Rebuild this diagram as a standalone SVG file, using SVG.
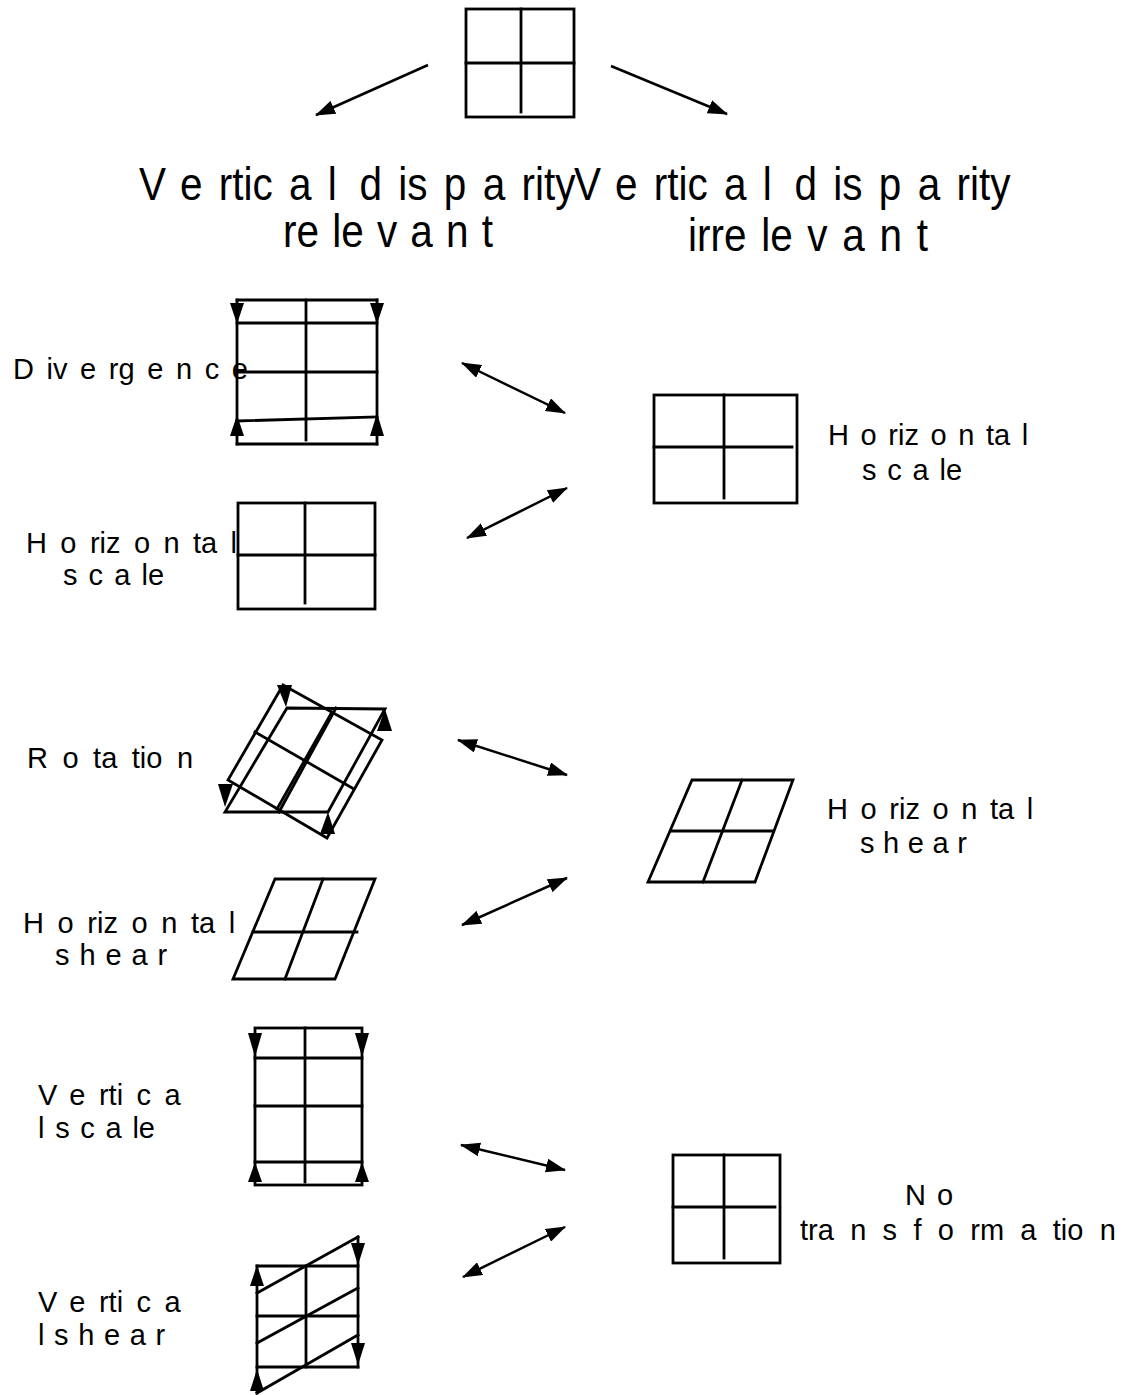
<svg xmlns="http://www.w3.org/2000/svg" width="1133" height="1395" viewBox="0 0 1133 1395">
<defs>
<style>
.fig{fill:none;stroke:#000;stroke-width:2.8;stroke-linecap:square}
.con{fill:none;stroke:#000;stroke-width:2.5}
.lbl{font-family:"Liberation Sans",Arial,sans-serif;font-size:29px;fill:#000}
.hd{font-family:"Liberation Sans",Arial,sans-serif;font-size:46px;fill:#000}
.ah{fill:#000;stroke:none}
</style>
<marker id="arr" viewBox="0 0 20 14" refX="19" refY="7" markerWidth="20" markerHeight="14" markerUnits="userSpaceOnUse" orient="auto-start-reverse">
<path d="M0,0 L20,7 L0,14 Z" fill="#000"/>
</marker>
</defs>
<rect width="1133" height="1395" fill="#fff"/>

<g id="top-square">
<rect class="fig" x="466" y="9" width="108" height="108"/>
<line class="fig" x1="521" y1="9" x2="521" y2="112"/>
<line class="fig" x1="466" y1="63" x2="574" y2="63"/>
</g>

<g id="headings">
<text class="hd" transform="translate(139,200) scale(0.88,1)" x="0" y="0" dx="0 18.5 18.5 0 0 0 18.5 18.5 0 13 18.5 0 18.5 18.5 18.5 0 0 0">Vertical disparity</text>
<text class="hd" transform="translate(283,247) scale(0.88,1)" x="0" y="0" dx="0 0 15 0 15 15 15 15">relevant</text>
<text class="hd" transform="translate(574,200) scale(0.88,1)" x="0" y="0" dx="0 18.5 18.5 0 0 0 18.5 18.5 0 13 18.5 0 18.5 18.5 18.5 0 0 0">Vertical disparity</text>
<text class="hd" transform="translate(688,251) scale(0.88,1)" x="0" y="0" dx="0 0 0 0 16.7 0 16.7 16.7 16.7 16.7">irrelevant</text>
</g>

<g id="divergence">
<line class="fig" x1="237" y1="300" x2="377" y2="300"/>
<line class="fig" x1="237" y1="444" x2="377" y2="444"/>
<line class="fig" x1="237" y1="300" x2="237" y2="444"/>
<line class="fig" x1="377" y1="300" x2="377" y2="444"/>
<line class="fig" x1="237" y1="323" x2="377" y2="323"/>
<line class="fig" x1="237" y1="372" x2="377" y2="372"/>
<line class="fig" x1="237" y1="421" x2="377" y2="417"/>
<line class="fig" x1="306" y1="300" x2="306" y2="440"/>
<path class="ah" d="M230,303 L244,303 L237,324 Z"/>
<path class="ah" d="M370,303 L384,303 L377,324 Z"/>
<path class="ah" d="M230,436 L244,436 L237,415 Z"/>
<path class="ah" d="M370,436 L384,436 L377,413 Z"/>
<text class="lbl" x="13" y="379" dx="0 12.6 0 12.6 12.6 0 12.6 12.6 12.6 12.6">Divergence</text>
</g>

<g id="hscale-left">
<rect class="fig" x="238" y="503" width="137" height="106"/>
<line class="fig" x1="305" y1="503" x2="305" y2="603"/>
<line class="fig" x1="238" y1="555" x2="375" y2="555"/>
<text class="lbl" x="26" y="553" dx="0 13.4 13.4 0 0 13.4 13.4 13.4 0 13.4">Horizontal</text>
<text class="lbl" x="63" y="585" dx="0 11.1 11.1 11.1 0">scale</text>
</g>

<g id="rotation">
<polygon class="fig" points="283,685 382,740 327,838 228,780"/>
<polygon class="fig" points="287,708 385,709 328,812 225,812"/>
<line class="fig" x1="255" y1="732" x2="354" y2="789"/>
<line class="fig" x1="332" y1="712" x2="277" y2="809"/>
<line class="fig" x1="336" y1="708" x2="279" y2="812"/>
<path class="ah" d="M277,685 L292,685 L286,707 Z"/>
<path class="ah" d="M377,731 L392,731 L385,709 Z"/>
<path class="ah" d="M218,784 L233,784 L225,807 Z"/>
<path class="ah" d="M320,834 L335,834 L328,812 Z"/>
<text class="lbl" x="27" y="768" dx="0 14.5 14.5 0 14.5 0 0 14.5">Rotation</text>
</g>

<g id="hshear-left">
<polygon class="fig" points="275,879 375,879 335,979 233,979"/>
<line class="fig" x1="253" y1="932" x2="357" y2="932"/>
<line class="fig" x1="323" y1="879" x2="285" y2="979"/>
<text class="lbl" x="23" y="933" dx="0 13.6 13.6 0 0 13.6 13.6 13.6 0 13.6">Horizontal</text>
<text class="lbl" x="55" y="965" dx="0 9.9 9.9 9.9 9.9">shear</text>
</g>

<g id="vscale">
<rect class="fig" x="255" y="1028" width="107" height="157"/>
<line class="fig" x1="255" y1="1058" x2="362" y2="1058"/>
<line class="fig" x1="255" y1="1106" x2="362" y2="1106"/>
<line class="fig" x1="255" y1="1162" x2="362" y2="1162"/>
<line class="fig" x1="305" y1="1028" x2="305" y2="1182"/>
<path class="ah" d="M248,1033 L262,1033 L255,1057 Z"/>
<path class="ah" d="M355,1033 L369,1033 L362,1057 Z"/>
<path class="ah" d="M248,1182 L262,1182 L255,1162 Z"/>
<path class="ah" d="M355,1182 L369,1182 L362,1162 Z"/>
<text class="lbl" x="38" y="1105" dx="0 13.5 13.5 0 0 13.5 13.5">Vertica</text>
<text class="lbl" x="38" y="1138" dx="0 10.7 10.7 10.7 10.7 0">lscale</text>
</g>

<g id="vshear">
<line class="fig" x1="257" y1="1266" x2="358" y2="1266"/>
<line class="fig" x1="257" y1="1316" x2="358" y2="1316"/>
<line class="fig" x1="257" y1="1367" x2="358" y2="1367"/>
<line class="fig" x1="257" y1="1266" x2="257" y2="1393"/>
<line class="fig" x1="358" y1="1237" x2="358" y2="1367"/>
<line class="fig" x1="306" y1="1266" x2="306" y2="1367"/>
<line class="fig" x1="257" y1="1293" x2="358" y2="1237"/>
<line class="fig" x1="257" y1="1343" x2="358" y2="1288"/>
<line class="fig" x1="257" y1="1393" x2="358" y2="1335"/>
<path class="ah" d="M250,1286 L264,1286 L257,1265 Z"/>
<path class="ah" d="M351,1243 L365,1243 L358,1265 Z"/>
<path class="ah" d="M351,1343 L365,1343 L358,1365 Z"/>
<path class="ah" d="M250,1391 L264,1391 L257,1369 Z"/>
<text class="lbl" x="38" y="1312" dx="0 13.5 13.5 0 0 13.5 13.5">Vertica</text>
<text class="lbl" x="38" y="1345" dx="0 9.6 9.6 9.6 9.6 9.6">lshear</text>
</g>

<g id="hscale-right">
<rect class="fig" x="654" y="395" width="143" height="108"/>
<line class="fig" x1="724" y1="395" x2="724" y2="498"/>
<line class="fig" x1="654" y1="447" x2="792" y2="447"/>
<text class="lbl" x="828" y="445" dx="0 11.6 11.6 0 0 11.6 11.6 11.6 0 11.6">Horizontal</text>
<text class="lbl" x="862" y="480" dx="0 10.8 10.8 10.8 0">scale</text>
</g>

<g id="hshear-right">
<polygon class="fig" points="692,780 793,780 755,882 648,882"/>
<line class="fig" x1="671" y1="831" x2="773" y2="831"/>
<line class="fig" x1="742" y1="780" x2="703" y2="882"/>
<text class="lbl" x="827" y="819" dx="0 12.6 12.6 0 0 12.6 12.6 12.6 0 12.6">Horizontal</text>
<text class="lbl" x="860" y="853" dx="0 8.6 8.6 8.6 8.6">shear</text>
</g>

<g id="no-transform">
<rect class="fig" x="673" y="1155" width="107" height="108"/>
<line class="fig" x1="724" y1="1155" x2="724" y2="1258"/>
<line class="fig" x1="673" y1="1207" x2="775" y2="1207"/>
<text class="lbl" x="905" y="1205" dx="0 11">No</text>
<text class="lbl" x="800" y="1240" dx="0 0 0 16.3 16.3 16.3 16.3 16.3 0 16.3 16.3 0 0 16.3">transformation</text>
</g>

<g id="connectors">
<line class="con" x1="428" y1="65" x2="316" y2="115" marker-end="url(#arr)"/>
<line class="con" x1="611" y1="66" x2="727" y2="114" marker-end="url(#arr)"/>
<line class="con" x1="462" y1="363" x2="565" y2="413" marker-start="url(#arr)" marker-end="url(#arr)"/>
<line class="con" x1="567" y1="488" x2="467" y2="538" marker-start="url(#arr)" marker-end="url(#arr)"/>
<line class="con" x1="458" y1="740" x2="567" y2="775" marker-start="url(#arr)" marker-end="url(#arr)"/>
<line class="con" x1="567" y1="878" x2="462" y2="925" marker-start="url(#arr)" marker-end="url(#arr)"/>
<line class="con" x1="461" y1="1145" x2="565" y2="1170" marker-start="url(#arr)" marker-end="url(#arr)"/>
<line class="con" x1="565" y1="1227" x2="463" y2="1277" marker-start="url(#arr)" marker-end="url(#arr)"/>
</g>
</svg>
